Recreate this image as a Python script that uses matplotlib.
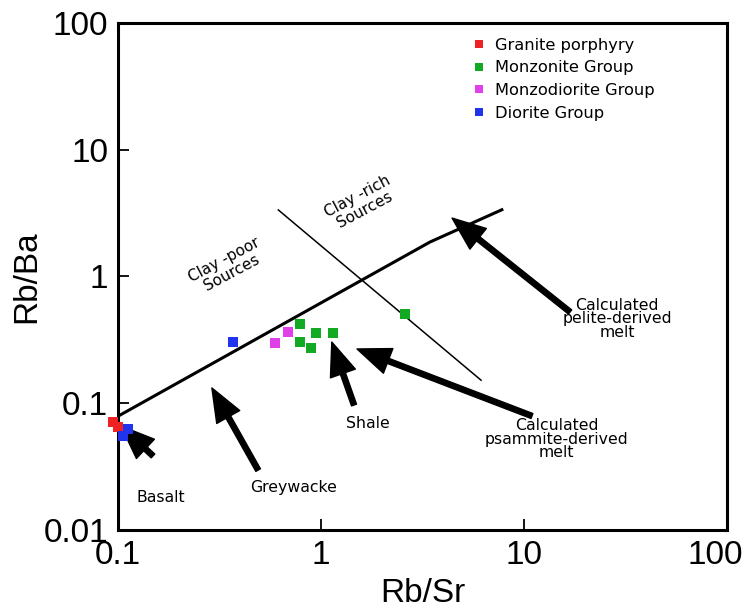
import matplotlib
matplotlib.use('Agg')
import matplotlib.pyplot as plt
from matplotlib.transforms import ScaledTranslation

# sample groups
granite_x = [0.0945, 0.100]
granite_y = [0.071, 0.065]
monzonite_x = [0.788, 0.942, 1.142, 0.791, 0.890, 2.59]
monzonite_y = [0.422, 0.361, 0.361, 0.306, 0.271, 0.506]
monzodiorite_x = [0.690, 0.593]
monzodiorite_y = [0.363, 0.297]
diorite_x = [0.370, 0.112, 0.106]
diorite_y = [0.306, 0.0626, 0.0552]

# clay-poor / clay-rich boundary and divider
boundary_x = [0.1, 3.44, 7.9]
boundary_y = [0.079, 1.87, 3.4]
divider_x = [0.616, 6.14]
divider_y = [3.35, 0.152]

# arrows: label, text position, arrow tail, arrow tip
arrow_labels = ['Basalt', 'Greywacke', 'Shale',
                'Calculated\npsammite-derived\nmelt',
                'Calculated\npelite-derived\nmelt']
label_pos = [(0.163, 0.0182), (0.736, 0.0218), (1.70, 0.0686),
             (14.5, 0.0522), (28.7, 0.462)]
arrow_tail = [(0.1487, 0.0384), (0.490, 0.0297), (1.454, 0.0968),
              (10.94, 0.0793), (16.85, 0.525)]
arrow_tip = [(0.1035, 0.066), (0.290, 0.132), (1.13, 0.304),
             (1.504, 0.268), (4.42, 2.89)]

x_ticks = [0.1, 1, 10, 100]
x_ticklabels = ['0.1', '1', '10', '100']
y_ticks = [0.01, 0.1, 1, 10, 100]
y_ticklabels = ['0.01', '0.1', '1', '10', '100']

fig = plt.figure(figsize=(7.46, 6.08), dpi=100)
ax = fig.add_axes([0.1582, 0.1283, 0.8164, 0.8339])
ax.set_xscale('log')
ax.set_yscale('log')
ax.set_xlim(0.1, 100)
ax.set_ylim(0.01, 100)

ax.plot(boundary_x, boundary_y, color='black', lw=2.2, solid_capstyle='butt')
ax.plot(divider_x, divider_y, color='black', lw=1.1)

for lab, pos, tail, tip in zip(arrow_labels, label_pos, arrow_tail, arrow_tip):
    ax.annotate('', xy=tip, xytext=tail,
                arrowprops=dict(facecolor='black', edgecolor='black', width=3.8,
                                headwidth=19, headlength=24, shrink=0))
    ax.text(pos[0], pos[1], lab, ha='center', va='center', fontsize=11.3,
            family='DejaVu Sans', linespacing=0.9)

ax.text(0.348, 1.21, 'Clay -poor\nSources', rotation=28, ha='center', va='center',
        fontsize=11, family='DejaVu Sans', linespacing=0.95, rotation_mode='anchor')
ax.text(1.574, 3.80, 'Clay -rich\nSources', rotation=28, ha='center', va='center',
        fontsize=11, family='DejaVu Sans', linespacing=0.95, rotation_mode='anchor')

ms = 6.5
ax.plot(granite_x, granite_y, 's', color='#ee2222', ms=ms, mew=0, clip_on=False,
        label='Granite porphyry', zorder=5)
ax.plot(monzonite_x, monzonite_y, 's', color='#11aa22', ms=ms, mew=0, clip_on=False,
        label='Monzonite Group', zorder=5)
ax.plot(monzodiorite_x, monzodiorite_y, 's', color='#e040e8', ms=ms, mew=0, clip_on=False,
        label='Monzodiorite Group', zorder=5)
ax.plot(diorite_x, diorite_y, 's', color='#2233ee', ms=ms, mew=0, clip_on=False,
        label='Diorite Group', zorder=5)

leg = ax.legend(loc='upper left', bbox_to_anchor=(0.558, 1.0), frameon=False,
                prop={'family': 'DejaVu Sans', 'size': 11.7}, handlelength=0.8,
                handletextpad=0.6, labelspacing=0.47, markerscale=0.9)

ax.set_xticks(x_ticks)
# last x label is drawn separately so it stays inside the figure
ax.set_xticklabels(x_ticklabels[:-1] + [''])
ax.set_yticks(y_ticks)
ax.set_yticklabels(y_ticklabels)
ax.minorticks_off()
ax.tick_params(direction='in', length=8, width=1.3, pad=7, labelsize=24)
for t in ax.get_xticklabels() + ax.get_yticklabels():
    t.set_family('Liberation Sans')
shift = ax.get_xaxis_transform() + ScaledTranslation(0.16, -7 / 72, fig.dpi_scale_trans)
ax.text(x_ticks[-1], 0, x_ticklabels[-1], transform=shift, ha='right', va='top',
        fontsize=24, family='Liberation Sans', clip_on=False)
for s in ax.spines.values():
    s.set_linewidth(2.2)

ax.set_xlabel('Rb/Sr', fontsize=24, family='Liberation Sans')
ax.set_ylabel('Rb/Ba', fontsize=24, family='Liberation Sans')
ax.xaxis.set_label_coords(0.5, -0.095)
ax.yaxis.set_label_coords(-0.125, 0.5)

fig.savefig('out.png', dpi=100)
